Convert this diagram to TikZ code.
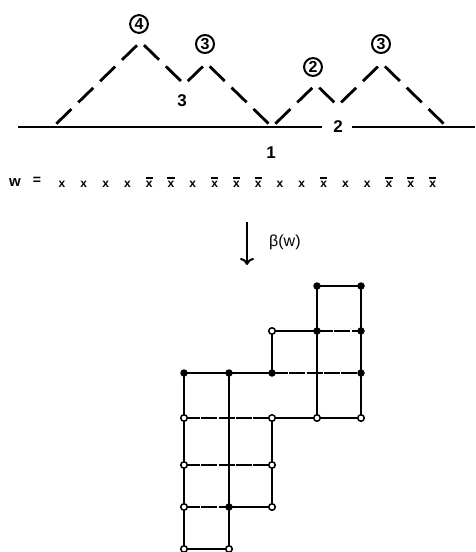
\documentclass[tikz,border=0pt]{standalone}
\usepackage{fontspec}
\setmainfont{Liberation Sans}
\usetikzlibrary{arrows.meta}

\begin{document}
\begin{tikzpicture}[x=1pt,y=-1pt,
    hill/.style={line width=2.8pt, dash pattern=on 21pt off 9.5pt, dash phase=25.8pt},
    ground/.style={line width=2.4pt},
    circ/.style={circle, draw, line width=2pt, inner sep=1.3pt, font=\fontsize{16}{16}\selectfont\bfseries},
    lab/.style={inner sep=1pt, font=\fontsize{17}{17}\selectfont\bfseries},
    letter/.style={inner sep=0pt, font=\fontsize{12}{12}\selectfont\bfseries},
    bar/.style={line width=1.8pt},
    bdry/.style={line width=2.6pt, line join=round},
    inner/.style={line width=1.6pt, dash pattern=on 16pt off 1.3pt},
    fdot/.style={circle, fill, inner sep=0pt, minimum size=7.5pt},
    odot/.style={circle, draw, fill=white, line width=1.5pt, inner sep=0pt, minimum size=6.5pt}]
    \useasboundingbox (0,0) rectangle (475,552);

    % Ground line
    \coordinate (b0) at (18,127);
    \coordinate (b1) at (322,127);
    \coordinate (b2) at (352,127);
    \coordinate (b3) at (475,127);
    \draw[ground] (b0) -- (b1);
    \draw[ground] (b2) -- (b3);

    % Path of w
    \coordinate (p0) at (53,127);
    \coordinate (p1) at (140.6,41.8);
    \coordinate (p2) at (184.4,84.4);
    \coordinate (p3) at (206.3,63.1);
    \coordinate (p4) at (272,127);
    \coordinate (p5) at (315.8,84.4);
    \coordinate (p6) at (337.7,105.7);
    \coordinate (p7) at (381.5,63.1);
    \coordinate (p8) at (447,127);
    \draw[hill] (p0) -- (p1);
    \draw[hill] (p1) -- (p2);
    \draw[hill] (p2) -- (p3);
    \draw[hill] (p3) -- (p4);
    \draw[hill] (p4) -- (p5);
    \draw[hill] (p5) -- (p6);
    \draw[hill] (p6) -- (p7);
    \draw[hill] (p7) -- (p8);

    % Labels
    \node[circ] (c4) at (139,24) {4};
    \node[circ] (c3a) at (205,44) {3};
    \node[circ] (c2) at (313,67) {2};
    \node[circ] (c3b) at (381,44) {3};
    \node[lab] (v3) at (182,101) {3};
    \node[lab] (v2) at (338,127) {2};
    \node[lab] (v1) at (271,153) {1};

    % The word w
    \node[lab, font=\fontsize{15}{15}\selectfont\bfseries] (w) at (15,183) {w};
    \node[lab, font=\fontsize{14}{14}\selectfont\bfseries] (eq) at (37,181) {=};
    \foreach \b [count=\i from 0] in {0,0,0,0,1,1,0,1,1,1,0,0,1,0,0,1,1,1} {
        \node[letter] (x\i) at ({62+21.8*\i},184) {x};
        \ifnum\b=1
            \draw[bar] ([yshift=3pt]x\i.north west) -- ([yshift=3pt]x\i.north east);
        \fi
    }

    % Arrow
    \coordinate (a0) at (247,222);
    \coordinate (a1) at (247,265);
    \draw[line width=2pt, -{To[length=7pt,width=14pt]}] (a0) -- (a1);
    \node[lab, anchor=west, font=\fontsize{16}{16}\selectfont] (beta) at (268,242) {β(w)};

    % Grid points
    \foreach \cx [count=\i from 0] in {184,229,272,317,361}
        \foreach \cy [count=\j from 0] in {286,331,373,418,465,507,549}
            \coordinate (g\i\j) at (\cx,\cy);

    % Cells
    \draw[inner] (g31) -- (g41);
    \draw[inner] (g22) -- (g42);
    \draw[inner] (g03) -- (g23);
    \draw[inner] (g04) -- (g24);
    \draw[inner] (g05) -- (g15);
    \draw[line width=1.6pt] (g12) -- (g15);
    \draw[line width=1.9pt] (g31) -- (g33);
    \draw[bdry] (g30) -- (g40) -- (g43) -- (g23) -- (g25) -- (g15) -- (g16)
        -- (g06) -- (g02) -- (g22) -- (g21) -- (g31) -- cycle;

    % Dots
    \foreach \p in {30,40,31,41,02,12,22,42,15}
        \node[fdot] (f\p) at (g\p) {};
    \foreach \p in {21,03,23,33,43,04,24,05,25,06,16}
        \node[odot] (o\p) at (g\p) {};
\end{tikzpicture}
\end{document}
